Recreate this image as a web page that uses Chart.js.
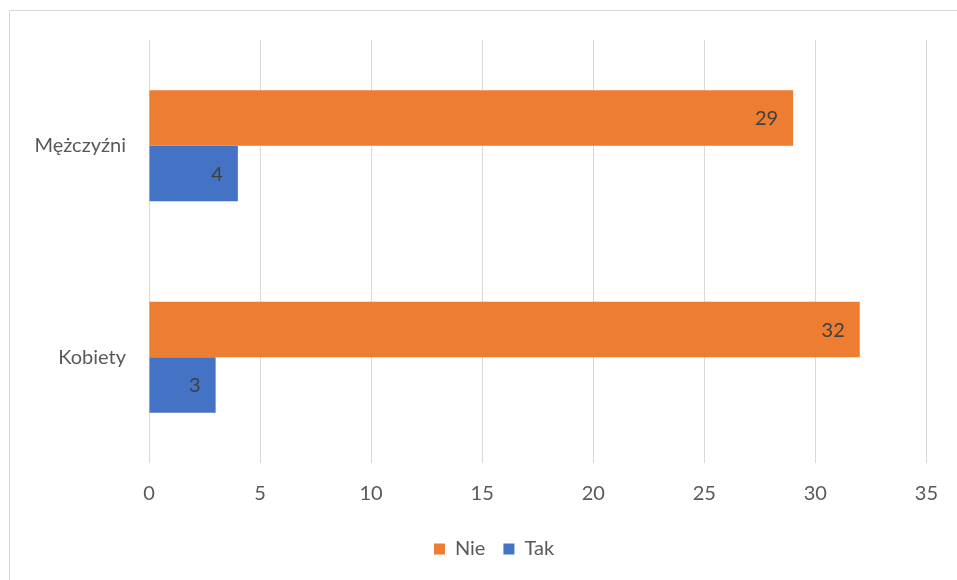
<!DOCTYPE html>
<html lang="pl">
<head>
    <meta charset="UTF-8">
    <title>Mężczyźni / Kobiety - Tak / Nie</title>
    <script src="https://cdn.jsdelivr.net/npm/chart.js"></script>
    <style>
        html, body { margin: 0; padding: 0; background: #fff; }
        #wrap { width: 957px; height: 580px; position: relative; }
    </style>
</head>
<body>
<div id="wrap">
    <canvas id="chart" width="957" height="580"></canvas>
</div>

<script>
// dane z wykresu
const categories = ["Mężczyźni", "Kobiety"];
const seriesNames = ["Nie", "Tak"];
const nieValues = [29, 32];
const takValues = [4, 3];
const xTicks = [0, 5, 10, 15, 20, 25, 30, 35];

const FONT = "Lato, 'Open Sans', sans-serif";
const TEXT = "#595959";

// ramka dookoła wykresu
const frame = {
    id: "frame",
    beforeDraw(chart) {
        const ctx = chart.ctx;
        ctx.save();
        ctx.strokeStyle = "#d9d9d9";
        ctx.lineWidth = 1;
        ctx.strokeRect(9.5, 10.5, 1000, 1000);
        ctx.restore();
    }
};

// legenda wyśrodkowana jak w oryginale (trochę w prawo)
const legendShift = {
    id: "legendShift",
    afterLayout(chart) {
        if (chart.legend) {
            chart.legend.left += 28;
            chart.legend.right += 28;
        }
    }
};

// etykiety danych wewnątrz końca słupka
const barLabels = {
    id: "barLabels",
    afterDatasetsDraw(chart) {
        const ctx = chart.ctx;
        ctx.save();
        ctx.font = "20px " + FONT;
        ctx.fillStyle = "#404040";
        ctx.textAlign = "right";
        ctx.textBaseline = "middle";
        chart.data.datasets.forEach((ds, i) => {
            chart.getDatasetMeta(i).data.forEach((bar, j) => {
                ctx.fillText(ds.data[j], bar.x - 15, bar.y + 1);
            });
        });
        ctx.restore();
    }
};

new Chart(document.getElementById("chart"), {
    type: "bar",
    data: {
        labels: categories,
        datasets: [
            { label: seriesNames[0], data: nieValues, backgroundColor: "#ED7D31" },
            { label: seriesNames[1], data: takValues, backgroundColor: "#4472C4" }
        ]
    },
    options: {
        indexAxis: "y",
        responsive: false,
        animation: false,
        barPercentage: 1,
        categoryPercentage: 0.525,
        layout: { padding: { top: 40, right: 25, left: 0, bottom: 11 } },
        scales: {
            x: {
                min: 0,
                max: 35,
                afterBuildTicks: (s) => { s.ticks = xTicks.map(v => ({ value: v })); },
                afterFit: (s) => { s.height = 58; },
                grid: { color: "#d9d9d9", lineWidth: 1, drawTicks: false },
                border: { display: false },
                ticks: { color: TEXT, font: { family: FONT, size: 20 }, padding: 19 }
            },
            y: {
                afterFit: (s) => { s.width = 149; },
                grid: { display: false, drawTicks: false },
                border: { display: false },
                ticks: { color: TEXT, font: { family: FONT, size: 20 }, padding: 23 }
            }
        },
        plugins: {
            legend: {
                position: "bottom",
                labels: {
                    color: TEXT,
                    font: { family: FONT, size: 20 },
                    boxWidth: 11,
                    boxHeight: 11,
                    padding: 18
                }
            },
            tooltip: { enabled: false }
        }
    },
    plugins: [frame, legendShift, barLabels]
});
</script>
</body>
</html>
